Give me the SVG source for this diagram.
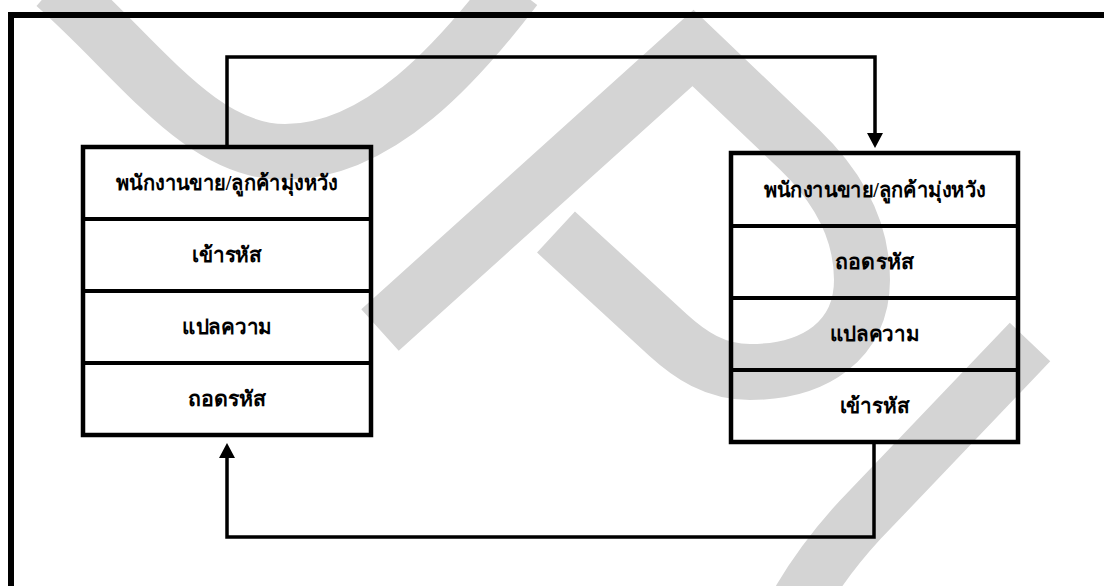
<svg xmlns="http://www.w3.org/2000/svg" width="1104" height="586" viewBox="0 0 1104 586">
  <style>
    .wm { fill: none; stroke: #d4d4d4; stroke-linejoin: miter; stroke-linecap: butt; }
    .box { fill: none; stroke: #000; stroke-width: 4.5; }
    .sep { stroke: #000; stroke-width: 4; }
    .conn { fill: none; stroke: #000; stroke-width: 3.5; }
    .lbl { font-family: "Liberation Serif", "DejaVu Serif", serif; font-weight: bold; font-size: 21px; fill: #000; text-anchor: middle; }
  </style>
  <defs>
    <marker id="arrow" markerUnits="userSpaceOnUse" markerWidth="16" markerHeight="17" refX="0" refY="8" orient="auto">
      <path d="M0,0 L15,8 L0,16 Z" fill="#000"/>
    </marker>
  </defs>
  <rect width="1104" height="586" fill="#fff"/>
  <g id="watermark">
    <path class="wm" stroke-width="56" d="M55,-15 C140,60 200,152 285,152 C380,152 460,60 515,-12"/>
    <path class="wm" stroke-width="56" stroke-miterlimit="10" d="M380,330 L693,48 L800,150 Q862,210 862,280 C862,340 815,372 750,372 C715,372 690,355 668,335 L556,232"/>
    <path class="wm" stroke-width="56" d="M1030,342 L860,520 Q825,558 800,600"/>
  </g>
  <g id="frame">
    <path d="M11,586 V15 H1104" fill="none" stroke="#000" stroke-width="6"/>
  </g>
  <g id="connectors">
    <path class="conn" d="M227,147 V57 H875 V133" marker-end="url(#arrow)"/>
    <path class="conn" d="M874,442 V537 H227 V458" marker-end="url(#arrow)"/>
  </g>
  <g id="left-stack">
    <rect class="box" x="83" y="147" width="288" height="288" fill="none"/>
    <line class="sep" x1="83" y1="219" x2="371" y2="219"/>
    <line class="sep" x1="83" y1="291" x2="371" y2="291"/>
    <line class="sep" x1="83" y1="363" x2="371" y2="363"/>
    <text class="lbl" x="227" y="190" textLength="222" lengthAdjust="spacingAndGlyphs">พนักงานขาย/ลูกค้ามุ่งหวัง</text>
    <text class="lbl" x="227" y="262" textLength="70" lengthAdjust="spacingAndGlyphs">เข้ารหัส</text>
    <text class="lbl" x="227" y="334" textLength="90" lengthAdjust="spacingAndGlyphs">แปลความ</text>
    <text class="lbl" x="227" y="406" textLength="79" lengthAdjust="spacingAndGlyphs">ถอดรหัส</text>
  </g>
  <g id="right-stack">
    <rect class="box" x="731" y="153" width="287" height="289" fill="none"/>
    <line class="sep" x1="731" y1="226" x2="1018" y2="226"/>
    <line class="sep" x1="731" y1="298" x2="1018" y2="298"/>
    <line class="sep" x1="731" y1="370" x2="1018" y2="370"/>
    <text class="lbl" x="874.5" y="197" textLength="222" lengthAdjust="spacingAndGlyphs">พนักงานขาย/ลูกค้ามุ่งหวัง</text>
    <text class="lbl" x="874.5" y="269" textLength="79" lengthAdjust="spacingAndGlyphs">ถอดรหัส</text>
    <text class="lbl" x="874.5" y="341" textLength="90" lengthAdjust="spacingAndGlyphs">แปลความ</text>
    <text class="lbl" x="874.5" y="413" textLength="70" lengthAdjust="spacingAndGlyphs">เข้ารหัส</text>
  </g>
</svg>
